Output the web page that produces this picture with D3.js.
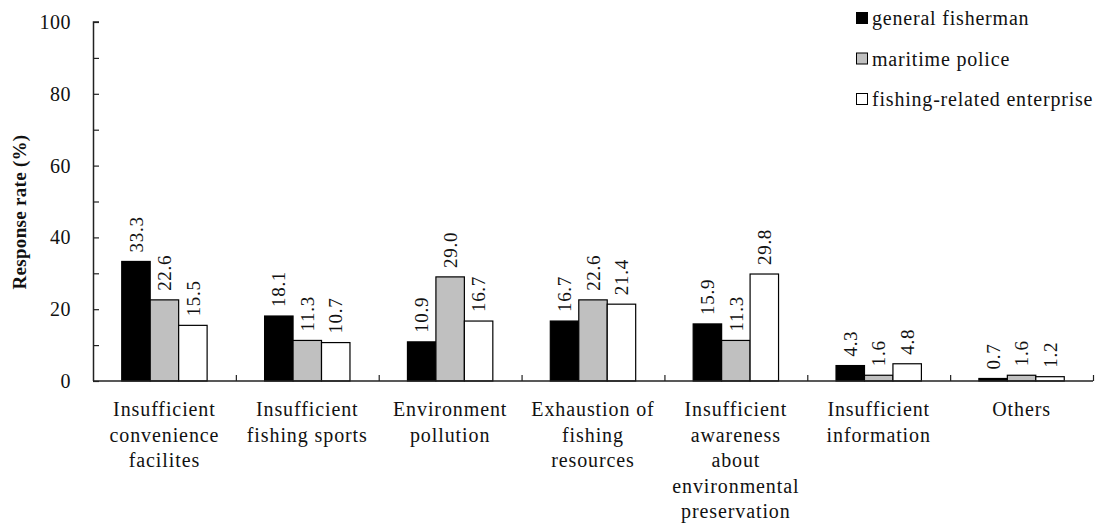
<!DOCTYPE html>
<html>
<head>
<meta charset="utf-8">
<script src="https://cdn.jsdelivr.net/npm/d3@7"></script>
<style>
  html, body { margin: 0; padding: 0; background: #fff; }
  svg { display: block; }
  text { font-family: "Liberation Serif", "Times New Roman", serif; fill: #111; }
</style>
</head>
<body>
<svg id="chart" width="1105" height="525"></svg>
<script>
const categories = [
  "Insufficient convenience facilites",
  "Insufficient fishing sports",
  "Environment pollution",
  "Exhaustion of fishing resources",
  "Insufficient awareness about environmental preservation",
  "Insufficient information",
  "Others"
];
const categoryLines = [
  ["Insufficient", "convenience", "facilites"],
  ["Insufficient", "fishing sports"],
  ["Environment", "pollution"],
  ["Exhaustion of", "fishing", "resources"],
  ["Insufficient", "awareness", "about", "environmental", "preservation"],
  ["Insufficient", "information"],
  ["Others"]
];
const seriesNames = ["general fisherman", "maritime police", "fishing-related enterprise"];
const generalFisherman = [33.3, 18.1, 10.9, 16.7, 15.9, 4.3, 0.7];
const maritimePolice = [22.6, 11.3, 29.0, 22.6, 11.3, 1.6, 1.6];
const fishingEnterprise = [15.5, 10.7, 16.7, 21.4, 29.8, 4.8, 1.2];
const yTicks = [0, 20, 40, 60, 80, 100];
const yMinorTicks = [10, 30, 50, 70, 90];
const seriesColors = ["#000000", "#c0c0c0", "#ffffff"];

const seriesValues = [generalFisherman, maritimePolice, fishingEnterprise];

const svg = d3.select("#chart");
const mLeft = 93, mRight = 1093, mTop = 22, mBottom = 381;

const x = d3.scaleBand().domain(categories).range([mLeft, mRight]).paddingInner(0).paddingOuter(0);
const xs = d3.scaleBand().domain(seriesNames).range([0, x.bandwidth()]).paddingInner(0).paddingOuter(1.01);
const y = d3.scaleLinear().domain([0, 100]).range([mBottom, mTop]);

// bars
const rows = [];
categories.forEach((c, i) => {
  seriesNames.forEach((s, j) => rows.push({c, s, j, v: seriesValues[j][i]}));
});

const g = svg.append("g");
g.selectAll("rect.bar").data(rows).enter().append("rect")
  .attr("class", "bar")
  .attr("x", d => x(d.c) + xs(d.s))
  .attr("y", d => y(d.v))
  .attr("width", xs.bandwidth())
  .attr("height", d => y(0) - y(d.v))
  .attr("fill", d => seriesColors[d.j])
  .attr("stroke", "#000")
  .attr("stroke-width", 1.2);

// value labels
g.selectAll("text.val").data(rows).enter().append("text")
  .attr("class", "val")
  .attr("transform", d => `translate(${x(d.c) + xs(d.s) + xs.bandwidth() / 2},${y(d.v) - 9}) rotate(-90)`)
  .attr("text-anchor", "start")
  .attr("dy", "0.35em")
  .style("font-size", "19px")
  .style("letter-spacing", "0.7px")
  .text(d => d.v.toFixed(1));

// y axis
const yAxis = d3.axisRight(y).tickValues(yTicks).tickSize(6).tickFormat("");
const ya = svg.append("g").attr("transform", `translate(${mLeft},0)`).call(yAxis);
const yMinor = d3.axisRight(y).tickValues(yMinorTicks).tickSize(6).tickFormat("");
const ym = svg.append("g").attr("transform", `translate(${mLeft},0)`).call(yMinor);
[ya, ym].forEach(a => {
  a.select(".domain").attr("stroke", "#222").attr("stroke-width", 1.5).attr("d", `M0.5,${mBottom}V${mTop}H6`);
  a.selectAll(".tick line").attr("stroke", "#222").attr("stroke-width", 1.2);
});
ym.select(".domain").remove();

svg.append("g").selectAll("text").data(yTicks).enter().append("text")
  .attr("x", 71)
  .attr("y", d => y(d))
  .attr("dy", "0.35em")
  .attr("text-anchor", "end")
  .style("font-size", "20px")
  .style("letter-spacing", "0.5px")
  .text(d => d);

// x axis
const xAxis = d3.axisTop(d3.scaleLinear().domain([0, categories.length]).range([mLeft, mRight]))
  .tickValues(d3.range(1, categories.length + 1)).tickSize(6).tickFormat("");
const xa = svg.append("g").attr("transform", `translate(0,${mBottom})`).call(xAxis);
xa.select(".domain").attr("stroke", "#222").attr("stroke-width", 1.5).attr("d", `M${mLeft},0H${mRight}`);
xa.selectAll(".tick line").attr("stroke", "#222").attr("stroke-width", 1.2);

// category labels
const cl = svg.append("g").selectAll("text").data(categories).enter().append("text")
  .attr("text-anchor", "middle")
  .style("font-size", "20px")
  .style("letter-spacing", "0.9px");
cl.each(function(c, i) {
  const t = d3.select(this);
  categoryLines[i].forEach((line, k) => {
    t.append("tspan")
      .attr("x", x(c) + x.bandwidth() / 2)
      .attr("y", 416 + k * 25.5)
      .text(line);
  });
});

// y title
svg.append("text")
  .attr("transform", `translate(26,212) rotate(-90)`)
  .attr("text-anchor", "middle")
  .style("font-size", "19px")
  .style("font-weight", "bold")
  .style("letter-spacing", "0.3px")
  .text("Response rate (%)");

// legend
const lg = svg.append("g").selectAll("g").data(seriesNames).enter().append("g")
  .attr("transform", (d, i) => `translate(856,${18 + i * 40.5})`);
lg.append("rect")
  .attr("x", 0.5).attr("y", -5.5)
  .attr("width", 11).attr("height", 11)
  .attr("fill", (d, i) => seriesColors[i])
  .attr("stroke", "#000").attr("stroke-width", 1);
lg.append("text")
  .attr("x", 16).attr("y", 0).attr("dy", "0.35em")
  .style("font-size", "20px")
  .style("letter-spacing", "0.8px")
  .text(d => d);
</script>
</body>
</html>
